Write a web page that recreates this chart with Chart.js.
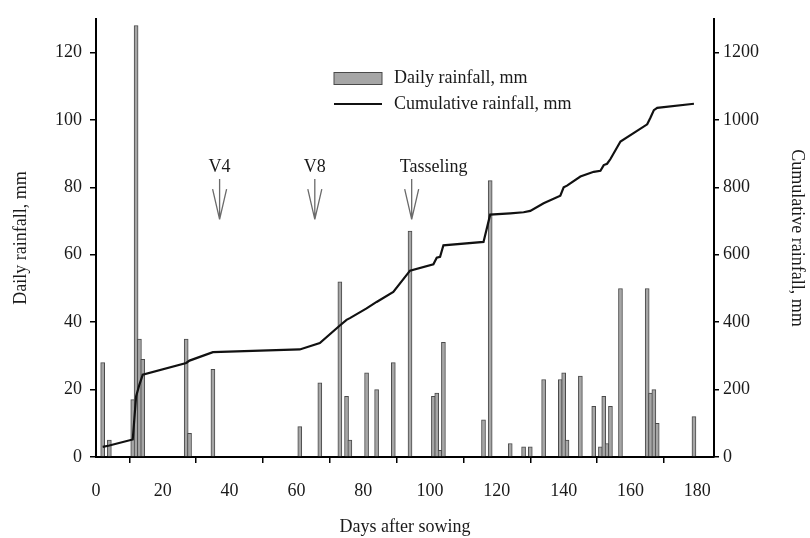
<!DOCTYPE html>
<html>
<head>
<meta charset="utf-8">
<script src="https://cdn.jsdelivr.net/npm/chart.js@4.4.1/dist/chart.umd.min.js"></script>
<style>
  html, body { margin: 0; padding: 0; background: #fff; }
  #wrap { width: 810px; height: 538px; position: relative; }
</style>
</head>
<body>
<div id="wrap"><canvas id="c" width="810" height="538"></canvas></div>
<script>
// ---- Data ----
const rainDays = [2, 4, 11, 12, 13, 14, 27, 28, 35, 61, 67, 73, 75, 76, 81, 84, 89, 94, 101, 102, 103, 104, 116, 118, 124, 128, 130, 134, 139, 140, 141, 145, 149, 151, 152, 153, 154, 157, 165, 166, 167, 168, 179];
const dailyRain = [28, 5, 17, 128, 35, 29, 35, 7, 26, 9, 22, 52, 18, 5, 25, 20, 28, 67, 18, 19, 2, 34, 11, 82, 4, 3, 3, 23, 23, 25, 5, 24, 15, 3, 18, 4, 15, 50, 50, 19, 20, 10, 12];
const cumDays = [2, 4, 11, 12, 13, 14, 27, 28, 35, 61, 67, 73, 75, 76, 81, 84, 89, 94, 101, 102, 103, 104, 116, 118, 124, 128, 130, 134, 139, 140, 141, 145, 149, 151, 152, 153, 154, 157, 165, 166, 167, 168, 179];
const cumRain = [30, 34, 52, 180, 215, 244, 279, 286, 311, 319, 338, 390, 407, 412, 441, 460, 490, 553, 572, 591, 594, 628, 638, 719, 723, 726, 730, 753, 775, 800, 805, 832, 846, 849, 866, 870, 884, 936, 987, 1007, 1029, 1036, 1048];
const xTicks = [0, 20, 40, 60, 80, 100, 120, 140, 160, 180];
const yTicks = [0, 20, 40, 60, 80, 100, 120];
const y2Ticks = [0, 200, 400, 600, 800, 1000, 1200];
const stageNames = ['V4', 'V8', 'Tasseling'];
const stageDays = [37, 65.5, 94.5];
const seriesLabels = ['Daily rainfall, mm', 'Cumulative rainfall, mm'];

const FONT = '"Liberation Serif", "Times New Roman", serif';
const TXT = '#1a1a1a';

const barData = rainDays.map((d, i) => ({ x: d, y: dailyRain[i] }));
const lineData = cumDays.map((d, i) => ({ x: d, y: cumRain[i] }));

const stagePlugin = {
  id: 'stages',
  afterDatasetsDraw(chart) {
    const ctx = chart.ctx;
    const xs = chart.scales.x, ys = chart.scales.y;
    ctx.save();
    stageNames.forEach((name, i) => {
      const x = xs.getPixelForValue(stageDays[i]);
      const yText = ys.getPixelForValue(86);
      const yTop = ys.getPixelForValue(82.5);
      const yWing = ys.getPixelForValue(79.5);
      const yTip = ys.getPixelForValue(70.5);
      ctx.fillStyle = TXT;
      ctx.font = '18px ' + FONT;
      ctx.textBaseline = 'middle';
      if (name === 'Tasseling') {
        ctx.textAlign = 'left';
        ctx.fillText(name, x - 12, yText);
      } else {
        ctx.textAlign = 'center';
        ctx.fillText(name, x, yText);
      }
      ctx.strokeStyle = '#6a6a6a';
      ctx.lineWidth = 1.3;
      ctx.beginPath();
      ctx.moveTo(x, yTop); ctx.lineTo(x, yTip);
      ctx.moveTo(x - 7, yWing); ctx.lineTo(x, yTip);
      ctx.moveTo(x + 7, yWing); ctx.lineTo(x, yTip);
      ctx.stroke();
    });
    // legend
    ctx.fillStyle = '#a6a6a6';
    ctx.strokeStyle = '#4a4a4a';
    ctx.lineWidth = 1;
    ctx.fillRect(334, 72.5, 48, 12);
    ctx.strokeRect(334, 72.5, 48, 12);
    ctx.strokeStyle = '#111';
    ctx.lineWidth = 2;
    ctx.beginPath();
    ctx.moveTo(334, 104); ctx.lineTo(382, 104);
    ctx.stroke();
    ctx.fillStyle = TXT;
    ctx.font = '18px ' + FONT;
    ctx.textAlign = 'left';
    ctx.textBaseline = 'middle';
    ctx.fillText(seriesLabels[0], 394, 78.5);
    ctx.fillText(seriesLabels[1], 394, 104);
    ctx.restore();
  }
};

function keepTicks(list) {
  return function (scale) {
    scale.ticks = list.map(v => ({ value: v }));
  };
}
const plain = v => String(v);

new Chart(document.getElementById('c'), {
  type: 'bar',
  data: {
    datasets: [
      {
        type: 'line',
        label: seriesLabels[1],
        data: lineData,
        yAxisID: 'y2',
        borderColor: '#111',
        borderWidth: 2.2,
        pointRadius: 0,
        tension: 0,
        fill: false,
        order: 0
      },
      {
        type: 'bar',
        label: seriesLabels[0],
        data: barData,
        yAxisID: 'y',
        backgroundColor: '#a6a6a6',
        borderColor: '#4a4a4a',
        borderWidth: 1,
        barThickness: 4,
        order: 1
      }
    ]
  },
  options: {
    responsive: false,
    animation: false,
    devicePixelRatio: 1,
    layout: { padding: { top: 13, left: 0, right: 0, bottom: 0 } },
    plugins: { legend: { display: false }, tooltip: { enabled: false } },
    scales: {
      x: {
        type: 'linear',
        min: 0, max: 185,
        offset: false,
        afterBuildTicks: keepTicks(xTicks),
        afterFit(s) { s.height = 81; },
        border: { display: true, color: '#000', width: 2 },
        grid: { drawOnChartArea: false, drawTicks: true, tickLength: 6, color: '#000', lineWidth: 1.5 },
        ticks: { color: TXT, font: { family: FONT, size: 18 }, padding: 17, maxRotation: 0, callback: plain },
        title: { display: true, text: 'Days after sowing', color: TXT, font: { family: FONT, size: 18 }, padding: { top: 8, bottom: 0 } }
      },
      y: {
        position: 'left',
        min: 0, max: 130,
        afterBuildTicks: keepTicks(yTicks),
        afterFit(s) { s.width = 96; },
        border: { display: true, color: '#000', width: 2 },
        grid: { drawOnChartArea: false, drawTicks: true, tickLength: 6, color: '#000', lineWidth: 1.5 },
        ticks: { color: TXT, font: { family: FONT, size: 18 }, padding: 8, callback: plain },
        title: { display: true, text: 'Daily rainfall, mm', color: TXT, font: { family: FONT, size: 18 }, padding: { top: 10, bottom: 0 } }
      },
      y2: {
        position: 'right',
        min: 0, max: 1300,
        afterBuildTicks: keepTicks(y2Ticks),
        afterFit(s) { s.width = 96; },
        border: { display: true, color: '#000', width: 2 },
        grid: { drawOnChartArea: false, drawTicks: true, tickLength: 5, color: '#000', lineWidth: 1.5 },
        ticks: { color: TXT, font: { family: FONT, size: 18 }, padding: 4, callback: plain },
        title: { display: true, text: 'Cumulative rainfall, mm', color: TXT, font: { family: FONT, size: 18 }, padding: { top: 2, bottom: 0 } }
      }
    }
  },
  plugins: [stagePlugin]
});
</script>
</body>
</html>
